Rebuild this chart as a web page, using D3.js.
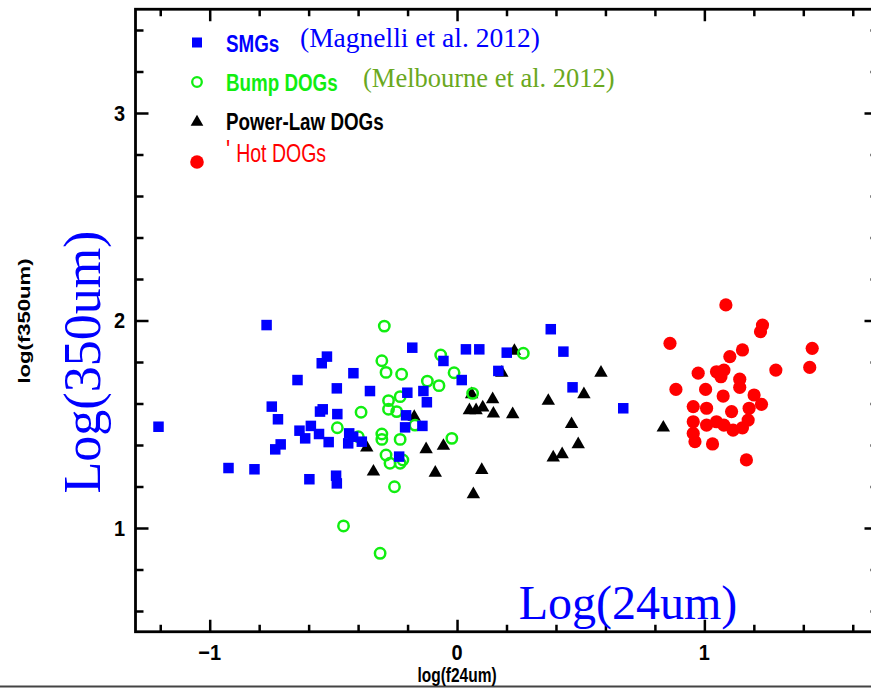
<!DOCTYPE html>
<html><head><meta charset="utf-8">
<script src="https://cdn.jsdelivr.net/npm/d3@7"></script>
<style>body{margin:0;background:#fff}svg{display:block}</style>
</head><body>
<script>
// ---- data (log f24um, log f350um) ----
const smgX = [-1.207,-0.924,-0.819,-0.770,-0.749,-0.724,-0.713,-0.735,-0.645,-0.637,-0.614,-0.591,-0.597,-0.558,-0.547,-0.526,-0.543,-0.554,-0.519,-0.486,-0.484,-0.489,-0.486,-0.436,-0.420,-0.440,-0.385,-0.419,-0.352,-0.234,-0.206,-0.210,-0.201,-0.181,-0.140,-0.136,-0.122,-0.055,0.019,0.036,0.090,0.167,0.201,0.379,0.430,0.467,0.672];
const smgY = [1.488,1.289,1.283,1.978,1.585,1.524,1.403,1.379,1.713,1.469,1.432,1.492,1.235,1.453,1.794,1.826,1.572,1.561,1.414,1.673,1.549,1.252,1.215,1.456,1.440,1.408,1.416,1.746,1.660,1.344,1.543,1.485,1.652,1.869,1.492,1.660,1.606,1.805,1.713,1.861,1.861,1.757,1.845,1.958,1.850,1.678,1.577];
const bumpX = [-0.294,-0.304,-0.287,-0.224,-0.066,-0.012,-0.120,-0.073,0.268,0.063,-0.230,-0.277,-0.277,-0.244,-0.388,-0.170,-0.484,-0.304,-0.304,-0.230,-0.021,-0.287,-0.271,-0.230,-0.219,-0.253,-0.459,-0.311,-0.399];
const bumpY = [1.973,1.806,1.750,1.741,1.834,1.748,1.708,1.686,1.842,1.649,1.633,1.614,1.572,1.561,1.558,1.496,1.483,1.453,1.427,1.427,1.432,1.352,1.312,1.312,1.328,1.199,1.010,0.878,1.440];
const plX = [0.232,0.181,0.059,0.144,0.050,0.077,0.104,0.147,0.225,-0.173,-0.365,-0.125,-0.055,-0.338,-0.088,0.100,0.066,0.369,0.513,0.582,0.463,0.490,0.389,0.425,0.834];
const plY = [1.858,1.753,1.649,1.625,1.572,1.572,1.585,1.556,1.553,1.540,1.392,1.384,1.400,1.276,1.271,1.284,1.167,1.617,1.649,1.753,1.505,1.408,1.344,1.360,1.488];
const hotX = [1.087,1.235,1.227,0.861,1.436,1.154,1.103,1.426,1.289,0.975,1.049,1.079,1.067,1.143,1.143,0.885,1.005,1.076,1.201,1.231,0.955,1.009,1.110,1.181,0.955,1.009,1.049,1.079,1.116,1.154,1.177,0.955,0.962,1.033,1.170];
const hotY = [2.075,1.978,1.946,1.890,1.866,1.858,1.826,1.774,1.761,1.746,1.753,1.761,1.729,1.717,1.678,1.668,1.668,1.636,1.641,1.596,1.585,1.577,1.561,1.577,1.512,1.496,1.512,1.496,1.472,1.483,1.520,1.456,1.416,1.405,1.328];

const xMajor = [-1, 0, 1];
const xMajorLabels = ["\u22121", "0", "1"];
const yMajor = [1, 2, 3];
const yMajorLabels = ["1", "2", "3"];
const legendLabels = ["SMGs", "Bump DOGs", "Power-Law DOGs", "Hot DOGs"];
const refLabels = ["(Magnelli et al. 2012)", "(Melbourne et al. 2012)"];
const xTitle = "log(f24um)", yTitle = "log(f350um)";
const bigX = "Log(24um)", bigY = "Log(350um)";

// ---- layout ----
const W = 871, H = 688;
const BLUE = "#0000ff", GREEN = "#11ee11", RED = "#ff0000", OLIVE = "#6aa81e";
const svg = d3.select("body").append("svg").attr("width", W).attr("height", H);
svg.append("rect").attr("width", W).attr("height", H).attr("fill", "#fff");
svg.append("line").attr("x1", 0).attr("x2", W).attr("y1", 686.5).attr("y2", 686.5).attr("stroke", "#444").attr("stroke-width", 2);

const x = d3.scaleLinear().domain([-1.3, 1.7]).range([135.5, 877.5]);
const y = d3.scaleLinear().domain([0.5, 3.5]).range([631.75, 9.25]);
const [x0, x1] = x.range(), [y0, y1] = y.range();

const minorX = d3.range(-1.2, 1.61, 0.2).map(v => +v.toFixed(2)).filter(v => !xMajor.includes(v));
const minorY = d3.range(0.6, 3.41, 0.2).map(v => +v.toFixed(2)).filter(v => !yMajor.includes(v));

// axes with inward ticks
function addAxis(axisGen, tx, ty) {
  const g = svg.append("g").attr("transform", `translate(${tx},${ty})`).call(axisGen);
  g.select(".domain").remove();
  g.selectAll("text").remove();
  g.selectAll("line").attr("stroke", "#000").attr("stroke-width", 2.5);
  return g;
}
addAxis(d3.axisBottom(x).tickValues(xMajor).tickSize(-12), 0, y0);
addAxis(d3.axisBottom(x).tickValues(minorX).tickSize(-7), 0, y0);
addAxis(d3.axisTop(x).tickValues(xMajor).tickSize(-12), 0, y1);
addAxis(d3.axisTop(x).tickValues(minorX).tickSize(-7), 0, y1);
addAxis(d3.axisLeft(y).tickValues(yMajor).tickSize(-13), x0, 0);
addAxis(d3.axisLeft(y).tickValues(minorY).tickSize(-8), x0, 0);
addAxis(d3.axisRight(y).tickValues(yMajor).tickSize(-13), x1, 0);
addAxis(d3.axisRight(y).tickValues(minorY).tickSize(-7), x1, 0);

svg.append("rect").attr("x", x0).attr("y", y1).attr("width", x1 - x0).attr("height", y0 - y1)
  .attr("fill", "none").attr("stroke", "#000").attr("stroke-width", 2.8);

const SANS = "'Liberation Sans', Arial, sans-serif";
const SERIF = "'Liberation Serif', 'Times New Roman', serif";

// tick labels
svg.selectAll(".xl").data(xMajor).join("text")
  .attr("transform", d => `translate(${x(d)},652) scale(1.05,1.15)`)
  .attr("text-anchor", "middle").attr("dy", "0.35em")
  .attr("font-family", SANS).attr("font-weight", "bold").attr("font-size", 19)
  .text((d, i) => xMajorLabels[i]);
svg.selectAll(".yl").data(yMajor).join("text")
  .attr("transform", d => `translate(125,${y(d)}) scale(1.05,1.15)`)
  .attr("text-anchor", "end").attr("dy", "0.35em")
  .attr("font-family", SANS).attr("font-weight", "bold").attr("font-size", 19)
  .text((d, i) => yMajorLabels[i]);

// axis titles
svg.append("text").attr("transform", "translate(457,682) scale(1,1.35)")
  .attr("text-anchor", "middle").attr("font-family", SANS).attr("font-weight", "bold")
  .attr("font-size", 15.5).text(xTitle);
svg.append("text").attr("transform", "translate(30,321) rotate(-90) scale(1.3,1)")
  .attr("text-anchor", "middle").attr("font-family", SANS).attr("font-weight", "bold")
  .attr("font-size", 17).text(yTitle);

// big overlay titles
svg.append("text").attr("x", 628).attr("y", 619).attr("text-anchor", "middle")
  .attr("font-family", SERIF).attr("font-size", 48).attr("fill", BLUE).text(bigX);
svg.append("text").attr("transform", "translate(100,362) rotate(-90)").attr("text-anchor", "middle")
  .attr("font-family", SERIF).attr("font-size", 52).attr("fill", BLUE).text(bigY);

// markers
const sq = 10.5;
const tri = d3.symbol().type(d3.symbolTriangle).size(78);
svg.append("g").selectAll("path").data(plX.map((v, i) => [v, plY[i]])).join("path")
  .attr("d", tri).attr("transform", d => `translate(${x(d[0])},${y(d[1]) + 1})`).attr("fill", "#000");
svg.append("g").selectAll("circle").data(bumpX.map((v, i) => [v, bumpY[i]])).join("circle")
  .attr("cx", d => x(d[0])).attr("cy", d => y(d[1])).attr("r", 5.2)
  .attr("fill", "none").attr("stroke", GREEN).attr("stroke-width", 2.5);
svg.append("g").selectAll("rect").data(smgX.map((v, i) => [v, smgY[i]])).join("rect")
  .attr("x", d => x(d[0]) - sq / 2).attr("y", d => y(d[1]) - sq / 2)
  .attr("width", sq).attr("height", sq).attr("fill", BLUE);
svg.append("g").selectAll("circle").data(hotX.map((v, i) => [v, hotY[i]])).join("circle")
  .attr("cx", d => x(d[0])).attr("cy", d => y(d[1])).attr("r", 6.6).attr("fill", RED);

// legend
const legY = [43, 82, 121, 162];
const legCol = [BLUE, GREEN, "#000", RED];
const lg = svg.append("g");
lg.append("rect").attr("x", 192).attr("y", legY[0] - 5.5).attr("width", 10).attr("height", 10).attr("fill", BLUE);
lg.append("circle").attr("cx", 197).attr("cy", legY[1]).attr("r", 4.8).attr("fill", "none").attr("stroke", GREEN).attr("stroke-width", 2.3);
lg.append("path").attr("d", d3.symbol().type(d3.symbolTriangle).size(70)).attr("transform", `translate(197,${legY[2] + 1})`);
lg.append("circle").attr("cx", 197).attr("cy", legY[3]).attr("r", 6.8).attr("fill", RED);
legendLabels.forEach((t, i) => {
  const tx = lg.append("text")
    .attr("transform", `translate(226,${legY[i]}) scale(1,1.28)`)
    .attr("dy", "0.36em").attr("font-family", SANS)
    .attr("font-weight", i === 3 ? "normal" : "bold")
    .attr("font-size", i === 3 ? 19.5 : 18.8).attr("fill", legCol[i]);
  if (i === 3) {
    tx.append("tspan").attr("dy", "-0.1em").attr("font-size", 22).text("'");
    tx.append("tspan").attr("dx", 6).attr("dy", "0.1em").text(t);
  } else tx.text(t);
});
svg.append("text").attr("x", 300).attr("y", 47).attr("font-family", SERIF).attr("font-size", 27.5)
  .attr("fill", BLUE).text(refLabels[0]);
svg.append("text").attr("x", 363).attr("y", 87).attr("font-family", SERIF).attr("font-size", 26.5)
  .attr("fill", OLIVE).text(refLabels[1]);
</script>
</body></html>
